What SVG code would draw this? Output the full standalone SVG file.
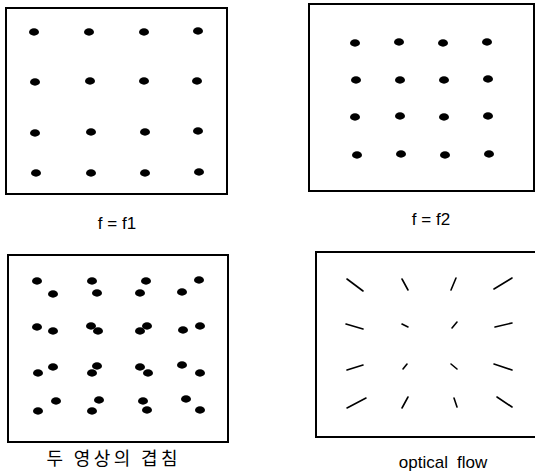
<svg xmlns="http://www.w3.org/2000/svg" width="535" height="475" viewBox="0 0 535 475">
<style>
.frame{fill:none;stroke:#000;stroke-width:2}
.dot{fill:#000}
.flow{stroke:#000;stroke-width:1.6;stroke-linecap:round;fill:none}
.lbl{font-family:"Liberation Sans","Noto Sans CJK KR",sans-serif;font-size:17px;fill:#000;text-anchor:middle}
.kr{font-family:"Noto Sans CJK KR",sans-serif;font-size:18px;fill:#000;text-anchor:middle}
</style>
<defs>
<ellipse id="d" rx="5" ry="3.7" class="dot"/>
</defs>
<rect width="535" height="475" fill="#fff"/>
<g id="panel-f1">
<rect class="frame" x="6" y="8" width="221" height="186"/>
<use href="#d" x="34" y="32"/><use href="#d" x="89" y="32"/><use href="#d" x="144" y="32"/><use href="#d" x="198" y="31"/>
<use href="#d" x="35" y="82"/><use href="#d" x="90" y="81"/><use href="#d" x="144" y="81"/><use href="#d" x="197" y="81"/>
<use href="#d" x="35" y="133"/><use href="#d" x="91" y="132"/><use href="#d" x="145" y="132"/><use href="#d" x="198" y="131"/>
<use href="#d" x="36" y="173"/><use href="#d" x="91" y="173"/><use href="#d" x="145" y="173"/><use href="#d" x="199" y="172"/>
<text class="lbl" x="117" y="229">f = f1</text>
</g>
<g id="panel-f2">
<rect class="frame" x="309" y="4" width="225" height="187"/>
<use href="#d" x="355" y="43"/><use href="#d" x="399" y="42"/><use href="#d" x="443" y="43"/><use href="#d" x="487" y="42"/>
<use href="#d" x="356" y="80"/><use href="#d" x="400" y="80"/><use href="#d" x="444" y="80"/><use href="#d" x="488" y="79"/>
<use href="#d" x="355" y="117"/><use href="#d" x="400" y="116"/><use href="#d" x="444" y="117"/><use href="#d" x="488" y="116"/>
<use href="#d" x="357" y="155"/><use href="#d" x="401" y="154"/><use href="#d" x="445" y="155"/><use href="#d" x="489" y="154"/>
<text class="lbl" x="431" y="225">f = f2</text>
</g>
<g id="panel-overlap">
<rect class="frame" x="8" y="255" width="220" height="187"/>
<use href="#d" x="37" y="281"/><use href="#d" x="53" y="294"/><use href="#d" x="92" y="281"/><use href="#d" x="97" y="293"/>
<use href="#d" x="146" y="281"/><use href="#d" x="140" y="293"/><use href="#d" x="199" y="280"/><use href="#d" x="182" y="292"/>
<use href="#d" x="37" y="327"/><use href="#d" x="53" y="331"/><use href="#d" x="91" y="326"/><use href="#d" x="98" y="331"/>
<use href="#d" x="147" y="326"/><use href="#d" x="140" y="331"/><use href="#d" x="183" y="330"/><use href="#d" x="200" y="326"/>
<use href="#d" x="38" y="373"/><use href="#d" x="53" y="367"/><use href="#d" x="97" y="366"/><use href="#d" x="92" y="373"/>
<use href="#d" x="140" y="367"/><use href="#d" x="148" y="373"/><use href="#d" x="182" y="365"/><use href="#d" x="200" y="373"/>
<use href="#d" x="38" y="411"/><use href="#d" x="56" y="401"/><use href="#d" x="99" y="400"/><use href="#d" x="92" y="411"/>
<use href="#d" x="143" y="401"/><use href="#d" x="147" y="410"/><use href="#d" x="186" y="399"/><use href="#d" x="200" y="410"/>
<text class="kr" x="112" y="465" textLength="131" lengthAdjust="spacing">두 영상의 겹침</text>
</g>
<g id="panel-flow">
<rect class="frame" x="316" y="252" width="222" height="185"/>
<line class="flow" x1="347" y1="279" x2="363" y2="291"/>
<line class="flow" x1="402" y1="279" x2="408" y2="290"/>
<line class="flow" x1="456" y1="278" x2="451" y2="290"/>
<line class="flow" x1="512" y1="278" x2="494" y2="289"/>
<line class="flow" x1="346" y1="324" x2="363" y2="329"/>
<line class="flow" x1="402" y1="324" x2="408" y2="327"/>
<line class="flow" x1="457" y1="322" x2="452" y2="328"/>
<line class="flow" x1="512" y1="323" x2="495" y2="327"/>
<line class="flow" x1="347" y1="370" x2="363" y2="365"/>
<line class="flow" x1="403" y1="369" x2="407" y2="364"/>
<line class="flow" x1="451" y1="364" x2="457" y2="369"/>
<line class="flow" x1="494" y1="364" x2="512" y2="370"/>
<line class="flow" x1="347" y1="408" x2="366" y2="398"/>
<line class="flow" x1="402" y1="408" x2="408" y2="397"/>
<line class="flow" x1="454" y1="398" x2="457" y2="407"/>
<line class="flow" x1="497" y1="397" x2="512" y2="407"/>
<text class="lbl" x="443" y="468">optical<tspan dx="9">flow</tspan></text>
</g>
</svg>
